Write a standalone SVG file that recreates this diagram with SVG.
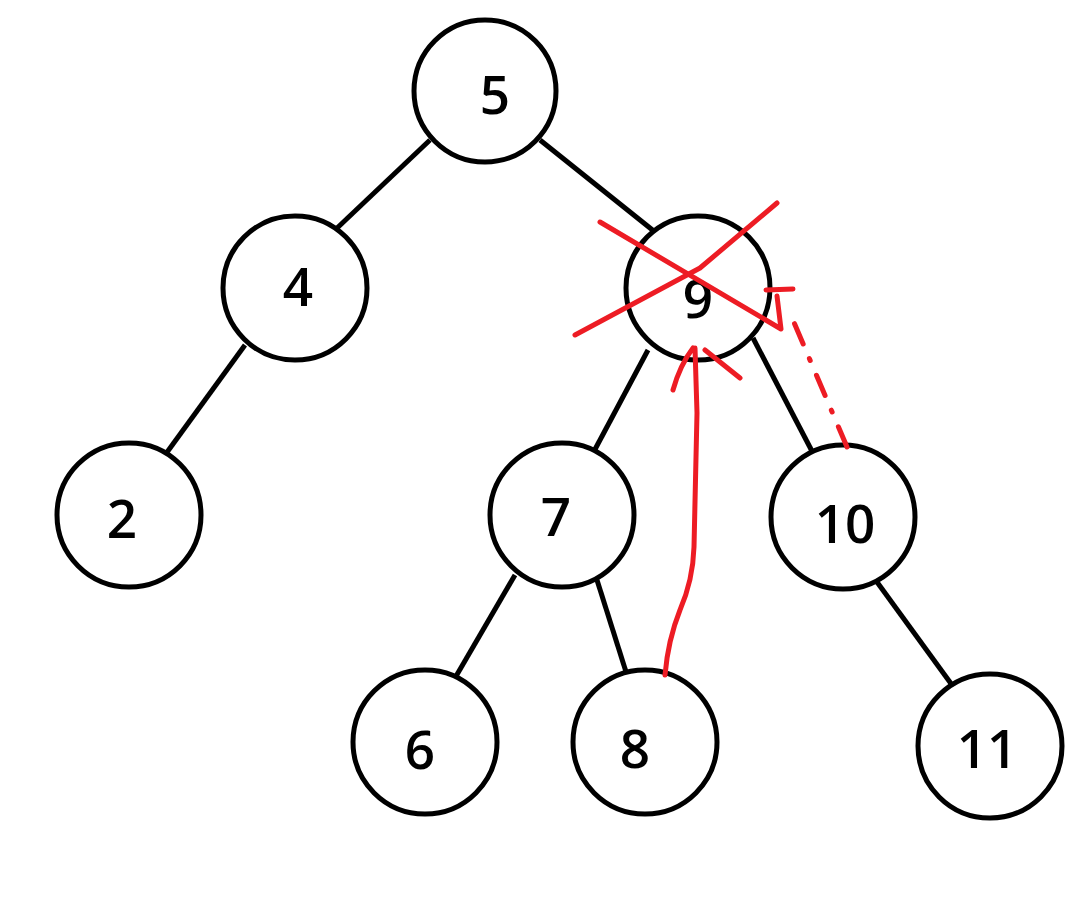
<svg xmlns="http://www.w3.org/2000/svg" width="1085" height="898" viewBox="0 0 1085 898">
<style>
.n{fill:#fff;stroke:#000;stroke-width:5}
.t{font-family:"Open Sans","Noto Sans",sans-serif;font-size:53px;font-weight:600;fill:#000;text-anchor:middle;dominant-baseline:central}
.e{stroke:#000;stroke-width:5;fill:none}
.r{stroke:#ED1C24;stroke-width:5;fill:none;stroke-linecap:round;stroke-linejoin:round}
</style>
<rect width="1085" height="898" fill="#fff"/>
<g id="connectors">
<line class="e" x1="430" y1="140" x2="335" y2="230"/>
<line class="e" x1="540" y1="140" x2="655" y2="232"/>
<line class="e" x1="245" y1="345" x2="165" y2="455"/>
<line class="e" x1="648" y1="350" x2="592" y2="455"/>
<line class="e" x1="753" y1="338" x2="814" y2="455"/>
<line class="e" x1="515" y1="575" x2="455" y2="678"/>
<line class="e" x1="597" y1="580" x2="627" y2="675"/>
<line class="e" x1="877" y1="582" x2="952" y2="685"/>
</g>
<g id="n5"><circle class="n" cx="485" cy="91" r="71"/><text class="t" x="495" y="93">5</text></g>
<g id="n4"><circle class="n" cx="295" cy="288" r="72"/><text class="t" x="298" y="285">4</text></g>
<g id="n9"><circle class="n" cx="698" cy="288" r="72"/><text class="t" x="698" y="297">9</text></g>
<g id="n2"><circle class="n" cx="129" cy="515" r="72"/><text class="t" x="122" y="517">2</text></g>
<g id="n7"><circle class="n" cx="562" cy="515" r="72"/><text class="t" x="556" y="515">7</text></g>
<g id="n10"><circle class="n" cx="843" cy="517" r="72"/><text class="t" x="845" y="522">10</text></g>
<g id="n6"><circle class="n" cx="425" cy="742" r="72"/><text class="t" x="420" y="748">6</text></g>
<g id="n8"><circle class="n" cx="645" cy="742" r="72"/><text class="t" x="635" y="747">8</text></g>
<g id="n11"><circle class="n" cx="990" cy="746" r="72"/><text class="t" x="987" y="747">11</text></g>
<g id="annotations">
<path class="r" d="M600,222 L781,329 L777,296 M766,290 L793,289"/>
<path class="r" d="M575,335 L700,268 L777,203"/>
<path class="r" d="M847,447 L790,313" stroke-dasharray="22,16,2,16"/>
<path class="r" d="M665,675 Q668,640 680,610 Q693,580 694,547 L697,413 L695,348 M693,348 Q680,365 673,390 M705,350 L740,378"/>
</g>
</svg>
